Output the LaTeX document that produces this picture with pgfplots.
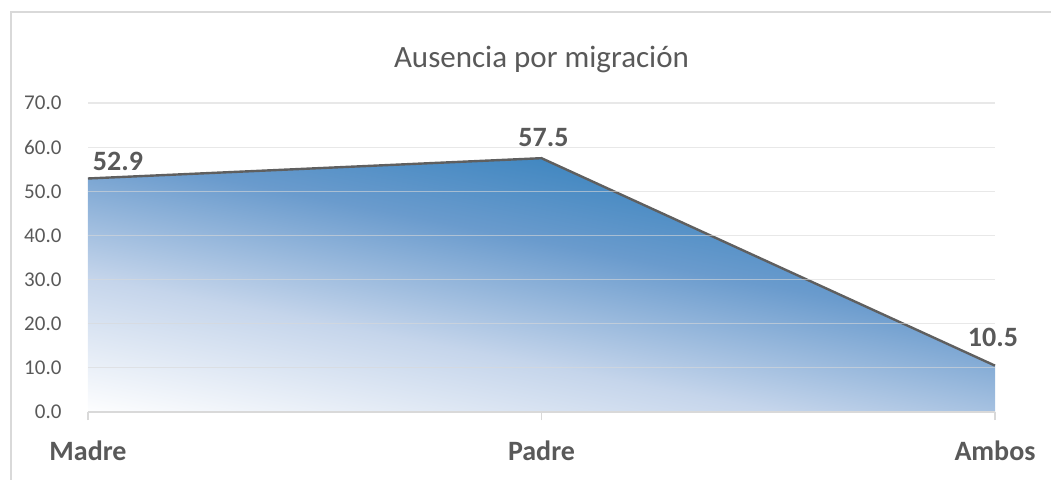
\documentclass[border=0pt]{standalone}
\usepackage{fontspec}
\setmainfont{Carlito}
\usepackage{pgfplots}
\pgfplotsset{compat=1.18}
\usepackage{pgfplotstable}
\definecolor{txtgray}{HTML}{595959}
\definecolor{gridgray}{HTML}{D9D9D9}
\definecolor{darkblue}{RGB}{38,116,182}
\definecolor{areablue}{RGB}{46,126,187}
\definecolor{midblue}{RGB}{106,155,205}
\definecolor{lightblue}{RGB}{197,213,235}
\definecolor{linegray}{HTML}{5F5F5F}
\pgfdeclareverticalshading{areagrad}{100bp}{color(0bp)=(white); color(20bp)=(white);
  color(39bp)=(lightblue); color(56bp)=(midblue); color(73bp)=(areablue); color(100bp)=(darkblue)}

% x = category index, dx/dy = offsets of the value labels
\pgfplotstableread{
x y dx dy
0 52.9 30 8
1 57.5 2 12
2 10.5 -2 19
}\ausencia

\begin{document}
\begin{tikzpicture}
\path[use as bounding box] (-88pt,-67pt) rectangle (963pt,412pt);
\draw[gridgray, line width=1.2pt] (-77pt,-70pt) -- (-77pt,400pt) -- (965pt,400pt);
\begin{axis}[
  scale only axis, width=907pt, height=309pt,
  xmin=0, xmax=2, ymin=0, ymax=70,
  clip=false,
  axis on top,
  axis x line*=bottom, axis y line*=left,
  x axis line style={gridgray, line width=1.5pt},
  y axis line style={draw=none},
  xtick={0,1,2}, xticklabels={Madre,Padre,Ambos},
  ytick={0,10,...,70},
  tick align=outside, major tick length=8pt,
  x tick style={gridgray, line width=1.2pt},
  y tick style={draw=none},
  ymajorgrids, grid style={gridgray, line width=1.2pt, opacity=0.6},
  /pgf/number format/assume math mode=true,
  yticklabel style={/pgf/number format/fixed, /pgf/number format/fixed zerofill,
    /pgf/number format/precision=1,
    font=\fontsize{21}{25}\selectfont, text=txtgray, anchor=east, xshift=-15pt},
  xticklabel style={font=\fontsize{28}{34}\selectfont\bfseries, text=txtgray, anchor=base, yshift=-40pt},
  title={Ausencia por migración},
  title style={font=\fontsize{31}{37}\selectfont, text=txtgray, at={(0.5,1)}, anchor=base, yshift=30pt},
]
\addplot[draw=none, shading=areagrad, shading angle=-11]
  table[x=x, y=y] {\ausencia} \closedcycle;
\addplot[linegray, line width=2.4pt, mark=none,
  visualization depends on={\thisrow{dx} \as \labdx},
  visualization depends on={\thisrow{dy} \as \labdy},
  nodes near coords={\pgfmathprintnumber[fixed,fixed zerofill,precision=1]{\pgfplotspointmeta}},
  every node near coord/.append style={font=\fontsize{28}{34}\selectfont\bfseries, text=txtgray,
    anchor=base, inner sep=0pt, xshift=\labdx pt, yshift=\labdy pt},
] table[x=x, y=y] {\ausencia};
\end{axis}
\end{tikzpicture}
\end{document}
